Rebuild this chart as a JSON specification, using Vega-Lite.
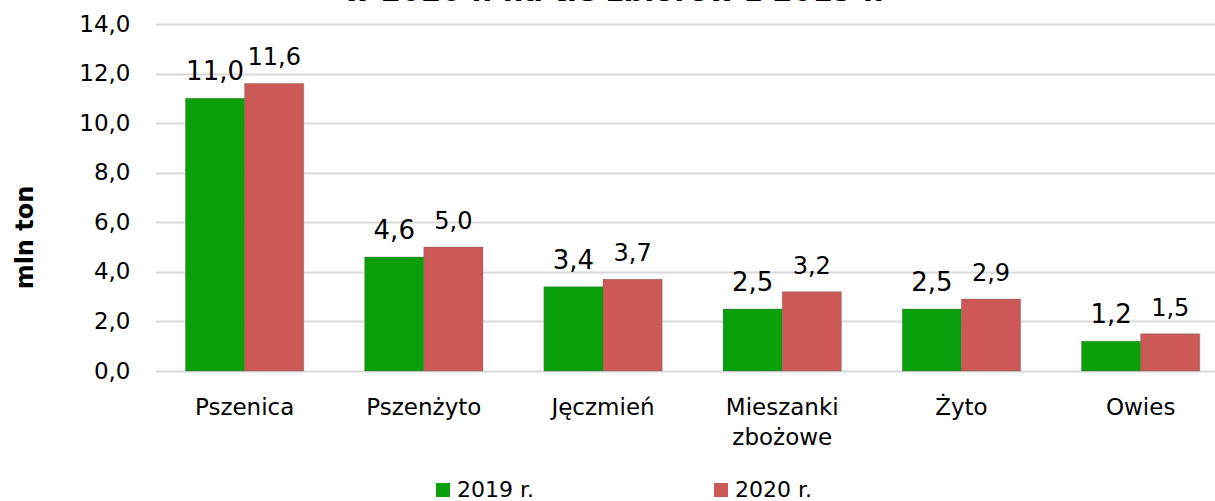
{
  "$schema": "https://vega.github.io/schema/vega-lite/v6.json",
  "width": 1060,
  "height": 347,
  "autosize": "none",
  "padding": {"left": 155, "top": 24, "right": 0, "bottom": 130},
  "background": "white",
  "config": {
    "locale": {"number": {"decimal": ",", "thousands": " ", "grouping": [3], "currency": ["", ""]}},
    "view": {"stroke": null},
    "font": "DejaVu Sans"
  },
  "title": {
    "text": "w 2020 r. na tle zbiorów z 2019 r.",
    "fontSize": 29,
    "fontWeight": "bold",
    "font": "DejaVu Sans",
    "color": "#000000",
    "anchor": "middle",
    "frame": "group",
    "baseline": "alphabetic",
    "offset": -17,
    "dx": -71
  },
  "data": {
    "values": [
      {"zboze": "Pszenica", "rok": "2019 r.", "wartosc": 11.0},
      {"zboze": "Pszenica", "rok": "2020 r.", "wartosc": 11.6},
      {"zboze": "Pszenżyto", "rok": "2019 r.", "wartosc": 4.6},
      {"zboze": "Pszenżyto", "rok": "2020 r.", "wartosc": 5.0},
      {"zboze": "Jęczmień", "rok": "2019 r.", "wartosc": 3.4},
      {"zboze": "Jęczmień", "rok": "2020 r.", "wartosc": 3.7},
      {"zboze": "Mieszanki zbożowe", "rok": "2019 r.", "wartosc": 2.5},
      {"zboze": "Mieszanki zbożowe", "rok": "2020 r.", "wartosc": 3.2},
      {"zboze": "Żyto", "rok": "2019 r.", "wartosc": 2.5},
      {"zboze": "Żyto", "rok": "2020 r.", "wartosc": 2.9},
      {"zboze": "Owies", "rok": "2019 r.", "wartosc": 1.2},
      {"zboze": "Owies", "rok": "2020 r.", "wartosc": 1.5}
    ]
  },
  "encoding": {
    "x": {
      "field": "zboze",
      "type": "nominal",
      "sort": null,
      "scale": {"paddingInner": 0.34, "paddingOuter": 0.1275, "align": 0.667},
      "axis": {
        "title": null,
        "labelAngle": 0,
        "labelFontSize": 23,
        "labelColor": "#000000",
        "labelPadding": 25,
        "labelLineHeight": 30,
        "labelExpr": "datum.label == 'Mieszanki zbożowe' ? ['Mieszanki', 'zbożowe'] : datum.label",
        "domain": false,
        "ticks": false,
        "grid": false
      }
    },
    "xOffset": {"field": "rok", "type": "nominal", "scale": {"paddingInner": 0, "paddingOuter": 0}},
    "y": {
      "field": "wartosc",
      "type": "quantitative",
      "scale": {"domain": [0, 14]},
      "axis": {
        "values": [0, 2, 4, 6, 8, 10, 12, 14],
        "format": ".1f",
        "labelFontSize": 23,
        "labelColor": "#000000",
        "labelPadding": 25,
        "domain": false,
        "ticks": false,
        "grid": true,
        "gridColor": "#d9d9d9",
        "gridWidth": 2,
        "title": "mln ton",
        "titleFontSize": 24,
        "titleFontWeight": "bold",
        "titleColor": "#000000",
        "titleX": -130,
        "titleY": 213,
        "titleAngle": -90,
        "titleAlign": "center",
        "titleBaseline": "middle"
      }
    }
  },
  "layer": [
    {
      "mark": {"type": "bar", "stroke": "#5a5a5a", "strokeOpacity": 0.35, "strokeWidth": 1},
      "encoding": {
        "color": {
          "field": "rok",
          "type": "nominal",
          "scale": {"domain": ["2019 r.", "2020 r."], "range": ["#09A009", "#CD5957"]},
          "legend": {
            "title": null,
            "orient": "none",
            "legendX": 277,
            "legendY": 455,
            "direction": "horizontal",
            "symbolType": "square",
            "symbolSize": 196,
            "symbolStrokeWidth": 0,
            "labelFontSize": 22,
            "labelColor": "#000000",
            "labelOffset": 3,
            "columnPadding": 176,
            "padding": 0
          }
        }
      }
    },
    {
      "transform": [{"filter": "datum.rok == '2019 r.'"}],
      "mark": {"type": "text", "baseline": "alphabetic", "dy": -18, "fontSize": 26, "color": "#000000"},
      "encoding": {
        "text": {"field": "wartosc", "type": "quantitative", "format": ".1f"}
      }
    },
    {
      "transform": [{"filter": "datum.rok == '2020 r.'"}],
      "mark": {"type": "text", "baseline": "alphabetic", "dy": -18, "fontSize": 24, "color": "#000000"},
      "encoding": {
        "text": {"field": "wartosc", "type": "quantitative", "format": ".1f"}
      }
    }
  ]
}
